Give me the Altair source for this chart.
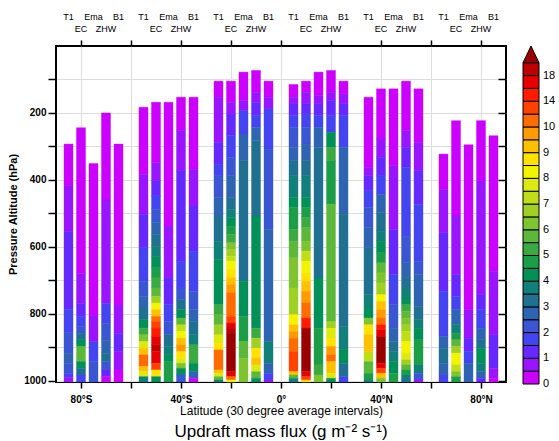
import altair as alt
import pandas as pd

# ---------------- data ----------------
MODELS = ["T1", "EC", "Ema", "ZHW", "B1"]
TOP_ROW = ["T1", "Ema", "B1"]
BOTTOM_ROW = ["EC", "ZHW"]
BAND_CENTERS = [-75, -45, -15, 15, 45, 75]      # 30-degree latitude bands
MODEL_OFFSETS = [-10, -5, 0, 5, 10]             # bar position of each model inside a band
P_SURFACE = 1004

# profiles: (top pressure of layer [hPa], updraft mass flux [g m-2 s-1]) from top to surface
# band 90S-60S
B1_T1 = [(293, 0.3), (418, 0.8), (555, 1.3), (787, 1.8), (857, 2.3), (918, 2.8), (948, 2.3), (978, 1.8), (990, 0.8)]
B1_EC = [(244, 0.3), (680, 0.8), (769, 1.3), (809, 1.8), (839, 2.3), (859, 3.3), (878, 4.3), (898, 5.8), (943, 4.3), (963, 3.3), (983, 1.8)]
B1_EMA = [(351, 0.3), (804, 0.8), (884, 1.8), (943, 2.3)]
B1_ZHW = [(200, 0.3), (460, 0.8), (769, 1.8), (829, 2.3), (879, 2.8), (918, 3.3), (943, 2.3), (968, 1.3), (988, 0.3)]
B1_B1 = [(293, 0.3), (774, 0.8), (859, 1.3), (913, 0.8), (968, 0.3)]
# band 60S-30S
B2_T1 = [(183, 0.3), (383, 0.8), (503, 1.3), (603, 1.8), (703, 2.3), (748, 2.8), (783, 3.3), (818, 4.3), (843, 5.3), (863, 6.3), (883, 7.8), (903, 9.3), (923, 11), (958, 9.3), (973, 7.8), (988, 3.8)]
B2_EC = [(168, 0.3), (348, 0.8), (403, 1.3), (448, 1.8), (488, 2.3), (528, 2.8), (563, 3.3), (598, 3.8), (628, 4.3), (663, 4.8), (693, 5.3), (723, 5.8), (748, 6.8), (768, 8.3), (788, 9.3), (808, 11), (823, 13), (843, 15), (868, 17), (893, 19), (913, 17), (948, 13), (968, 8.8), (988, 4.3)]
B2_EMA = [(168, 0.3), (538, 0.8), (693, 1.3), (773, 1.8), (823, 2.3), (863, 3.3), (898, 3.8), (923, 4.3), (943, 4.8)]
B2_ZHW = [(153, 0.3), (253, 0.8), (373, 1.3), (643, 1.8), (723, 2.3), (758, 3.3), (788, 4.3), (813, 5.8), (833, 7.3), (853, 8.3), (873, 9.3), (893, 9.8), (913, 8.8), (933, 7.8), (948, 6.3), (963, 4.3), (983, 2.3)]
B2_B1 = [(153, 0.3), (368, 0.8), (478, 1.3), (613, 1.8), (733, 2.3), (788, 2.8), (823, 3.3), (863, 3.8), (893, 5.3), (948, 4.3), (973, 2.8), (993, 0.3)]
# band 30S-0
B3_T1 = [(105, 0.3), (153, 0.8), (288, 1.3), (353, 1.8), (388, 2.3), (453, 2.8), (508, 3.3), (583, 3.8), (638, 4.3), (773, 5.3), (803, 5.8), (833, 6.8), (863, 7.8), (888, 8.8), (908, 11), (968, 9.3), (978, 7.8), (988, 5.8), (998, 3.8)]
B3_EC = [(105, 0.3), (168, 0.8), (203, 1.3), (268, 1.8), (333, 2.3), (388, 2.8), (453, 3.3), (488, 3.8), (513, 4.3), (538, 4.8), (563, 5.3), (588, 6.3), (608, 6.8), (628, 7.3), (643, 8.3), (668, 8.8), (693, 9.3), (713, 9.8), (738, 11), (808, 13), (828, 17), (843, 19), (858, 21), (973, 17), (988, 11), (998, 8.3)]
B3_EMA = [(78, 0.3), (163, 0.8), (193, 1.8), (263, 2.8), (343, 3.3), (703, 4.3), (808, 4.8), (883, 5.8), (933, 6.3)]
B3_ZHW = [(73, 0.3), (138, 0.8), (168, 1.3), (208, 1.8), (243, 2.8), (283, 3.3), (508, 4.3), (843, 5.3), (873, 6.8), (903, 8.8), (933, 9.3), (953, 7.8), (973, 5.8), (993, 4.3)]
B3_B1 = [(105, 0.3), (153, 0.8), (188, 1.8), (308, 2.3), (548, 2.8), (883, 3.8), (948, 2.8), (978, 1.8), (998, 0.8)]
# band 0-30N
B4_T1 = [(115, 0.3), (153, 0.8), (173, 1.3), (208, 1.8), (243, 2.3), (303, 2.8), (343, 3.3), (388, 3.8), (453, 4.3), (483, 4.8), (548, 5.3), (583, 5.8), (633, 6.3), (723, 6.8), (803, 8.3), (833, 9.3), (853, 9.8), (873, 11), (913, 13), (973, 9.3), (983, 5.8), (993, 3.8)]
B4_EC = [(105, 0.3), (138, 0.8), (173, 1.3), (203, 1.8), (243, 2.3), (293, 2.8), (343, 3.3), (388, 3.8), (453, 4.3), (483, 4.8), (513, 5.3), (543, 5.8), (583, 6.3), (613, 7.3), (643, 8.3), (678, 8.8), (703, 9.3), (733, 9.8), (768, 11), (813, 15), (843, 21), (973, 17), (988, 13), (998, 8.8)]
B4_EMA = [(78, 0.3), (148, 0.8), (173, 1.3), (208, 1.8), (243, 2.8), (303, 3.3), (693, 4.3), (843, 4.8), (953, 5.3), (983, 6.3)]
B4_ZHW = [(73, 0.3), (138, 0.8), (163, 1.3), (208, 1.8), (258, 4.3), (303, 5.3), (343, 4.8), (473, 5.8), (823, 6.8), (843, 7.8), (873, 8.8), (898, 9.8), (923, 11), (943, 9.3), (978, 7.8), (993, 4.3)]
B4_B1 = [(105, 0.3), (143, 0.8), (173, 1.3), (208, 1.8), (303, 2.8), (503, 3.3), (838, 3.8), (908, 4.3), (948, 3.3), (988, 1.8)]
# band 30N-60N
B5_T1 = [(153, 0.3), (363, 0.8), (388, 1.3), (433, 1.8), (483, 2.3), (543, 2.8), (603, 3.3), (743, 3.8), (783, 4.3), (813, 6.3), (833, 8.8), (863, 9.3), (913, 7.3), (943, 5.8), (978, 4.8), (998, 3.8)]
B5_EC = [(128, 0.3), (278, 0.8), (333, 1.3), (388, 1.8), (443, 2.8), (498, 3.3), (553, 3.8), (583, 4.3), (618, 4.8), (648, 5.8), (678, 6.3), (708, 6.8), (743, 8.3), (763, 9.3), (788, 9.8), (813, 11), (833, 15), (848, 17), (868, 21), (948, 17), (963, 13), (978, 9.3), (993, 6.3)]
B5_EMA = [(128, 0.3), (358, 0.8), (548, 1.3), (683, 1.8), (773, 2.3), (843, 2.8), (883, 3.3), (913, 3.8), (943, 4.3), (978, 4.8)]
B5_ZHW = [(105, 0.3), (253, 0.8), (303, 1.3), (363, 1.8), (568, 2.3), (648, 2.8), (693, 3.3), (723, 3.8), (753, 4.3), (773, 5.3), (793, 5.8), (813, 6.3), (833, 6.8), (853, 7.3), (883, 8.3), (918, 7.8), (938, 6.8), (953, 5.8), (968, 4.8), (983, 3.8), (998, 3.3)]
B5_B1 = [(128, 0.3), (288, 0.8), (373, 1.3), (473, 1.8), (643, 2.3), (683, 2.8), (778, 3.3), (818, 3.8), (843, 4.3), (878, 4.8), (953, 3.8), (978, 2.3), (998, 0.8)]
# band 60N-90N
B6_T1 = [(323, 0.3), (428, 0.8), (558, 1.3), (733, 1.8), (868, 2.8), (903, 3.3), (948, 2.8), (983, 1.8)]
B6_EC = [(223, 0.3), (508, 0.8), (683, 1.3), (748, 1.8), (788, 2.8), (833, 3.8), (858, 4.8), (878, 5.8), (898, 6.8), (918, 8.3), (953, 7.3), (973, 6.3), (988, 4.8)]
B6_EMA = [(295, 0.3), (788, 0.8), (873, 1.3), (913, 1.8), (948, 2.8)]
B6_ZHW = [(223, 0.3), (403, 0.8), (743, 1.3), (788, 1.8), (843, 2.8), (878, 3.3), (903, 4.3), (948, 3.8), (973, 2.8), (993, 1.3)]
B6_B1 = [(268, 0.3), (673, 0.8), (863, 1.3), (963, 0.8), (993, 0.3)]

PROFILES = [
    [B1_T1, B1_EC, B1_EMA, B1_ZHW, B1_B1],
    [B2_T1, B2_EC, B2_EMA, B2_ZHW, B2_B1],
    [B3_T1, B3_EC, B3_EMA, B3_ZHW, B3_B1],
    [B4_T1, B4_EC, B4_EMA, B4_ZHW, B4_B1],
    [B5_T1, B5_EC, B5_EMA, B5_ZHW, B5_B1],
    [B6_T1, B6_EC, B6_EMA, B6_ZHW, B6_B1],
]

# colour levels
LEVELS = [0.5, 1, 1.5, 2, 2.5, 3, 3.5, 4, 4.5, 5, 5.5, 6, 6.5, 7, 7.5, 8, 8.5, 9, 9.5, 10,
          12, 14, 16, 18, 20]
COLORS = ["#CC00FF", "#9A14FF", "#6628FF", "#4444F0", "#3A56D2", "#2E64B2", "#207092",
          "#12807A", "#009058", "#1C9E48", "#3CAA42", "#5CB83A", "#7EC430", "#A0D024",
          "#C0DE18", "#DCEA10", "#F2F400", "#FFE200", "#FFC000", "#FF9A00", "#FF6C00",
          "#FF4200", "#FF1A00", "#E60000", "#BE0000", "#990000"]
CB_LABELS = ["0", "1", "2", "3", "4", "5", "6", "7", "8", "9", "10", "14", "18"]
LAT_TICKS = [-80, -60, -40, -20, 0, 20, 40, 60, 80]
P_TICKS = [100, 200, 300, 400, 500, 600, 700, 800, 900, 1000]

BAR_HALF = 1.8  # half width of a bar, degrees (style)
FONT = "Liberation Sans"

# ---------------- tables ----------------
rows = []
labels = []
for gi, center in enumerate(BAND_CENTERS):
    for mi, model in enumerate(MODELS):
        lat = center + MODEL_OFFSETS[mi]
        labels.append({"model": model, "lat": lat})
        prof = PROFILES[gi][mi]
        for k, (ptop, flux) in enumerate(prof):
            pbot = prof[k + 1][0] if k + 1 < len(prof) else P_SURFACE
            rows.append({"model": model, "lat0": lat - BAR_HALF, "lat1": lat + BAR_HALF,
                         "ptop": ptop, "pbot": pbot, "flux": flux})
df = pd.DataFrame(rows)
lab = pd.DataFrame(labels)

xscale = alt.Scale(domain=[-90, 90], nice=False, zero=False)
yscale = alt.Scale(domain=[0, P_SURFACE], reverse=True, nice=False, zero=False)
cscale = alt.Scale(type="threshold", domain=LEVELS, range=COLORS)

lat_expr = ("datum.value % 40 != 0 ? '' : datum.value < 0 ? (-datum.value) + '°S' : "
            "datum.value > 0 ? datum.value + '°N' : '0°'")

bars = alt.Chart(df).mark_rect(strokeWidth=0.4).encode(
    x=alt.X("lat0:Q", scale=xscale,
            axis=alt.Axis(orient="bottom", values=LAT_TICKS, labelExpr=lat_expr,
                          title="Latitude (30 degree average intervals)", tickSize=6,
                          labelPadding=6, titlePadding=1, labelFontWeight="bold",
                          labelFontSize=10, titleFontSize=12, titleFontWeight="normal")),
    x2="lat1:Q",
    y=alt.Y("ptop:Q", scale=yscale,
            axis=alt.Axis(orient="left", values=P_TICKS,
                          labelExpr="datum.value % 200 == 0 ? '' + datum.value : ''",
                          title="Pressure Altitude (hPa)", tickSize=8, labelPadding=2,
                          titlePadding=5, labelFontWeight="bold", labelFontSize=10,
                          titleFontSize=11, titleFontWeight="bold")),
    y2="pbot:Q",
    color=alt.Color("flux:Q", scale=cscale, legend=None),
    stroke=alt.Stroke("flux:Q", scale=cscale, legend=None),
)

right_axis = alt.Chart(df).mark_rect(opacity=0).encode(
    x=alt.X("lat0:Q", scale=xscale, axis=None),
    x2="lat1:Q",
    y=alt.Y("ptop:Q", scale=yscale,
            axis=alt.Axis(orient="right", values=P_TICKS, labels=False, tickSize=8,
                          offset=-8, domain=False, title=None)),
    y2="pbot:Q",
)

top_labels = alt.Chart(lab).transform_filter(
    alt.FieldOneOfPredicate(field="model", oneOf=TOP_ROW)
).mark_text(fontSize=9, baseline="middle", font=FONT).encode(
    x=alt.X("lat:Q", scale=xscale,
            axis=alt.Axis(orient="top", values=LAT_TICKS, labels=False, tickSize=6,
                          domain=False, title=None)),
    y=alt.value(-29),
    text="model:N",
)
bottom_labels = alt.Chart(lab).transform_filter(
    alt.FieldOneOfPredicate(field="model", oneOf=BOTTOM_ROW)
).mark_text(fontSize=9, baseline="middle", font=FONT).encode(
    x=alt.X("lat:Q", scale=xscale, axis=None),
    y=alt.value(-17),
    text="model:N",
)

main = alt.layer(bars, right_axis, top_labels, bottom_labels).resolve_axis(
    x="independent", y="independent"
).properties(
    width=450, height=336,
    view=alt.ViewBackground(stroke="black", strokeWidth=2),
    title=alt.Title("Updraft mass flux (g m⁻² s⁻¹)", orient="bottom", anchor="middle",
                    fontSize=17, fontWeight="normal", offset=8, font=FONT),
)

# ---------------- colour bar ----------------
cb_df = pd.DataFrame({"lo": list(range(len(LEVELS))),
                      "hi": list(range(1, len(LEVELS) + 1)),
                      "color": COLORS[:len(LEVELS)]})
cb_lab = pd.DataFrame({"label": CB_LABELS, "pos": list(range(0, 2 * len(CB_LABELS), 2))})
cb_y = alt.Scale(domain=[0, len(LEVELS) + 1.3], nice=False, zero=False)
cb_x = alt.Scale(domain=[0, 1], nice=False)

cb_boxes = alt.Chart(cb_df).transform_calculate(x0="0", x1="1").mark_rect(
    stroke="black", strokeWidth=1
).encode(
    x=alt.X("x0:Q", scale=cb_x, axis=None),
    x2="x1:Q",
    y=alt.Y("lo:Q", scale=cb_y, axis=None),
    y2="hi:Q",
    color=alt.Color("color:N", scale=None),
)

cb_text = alt.Chart(cb_lab).mark_text(
    align="left", baseline="middle", dx=4, fontSize=11, font=FONT, color="black"
).encode(
    x=alt.datum(1, scale=cb_x),
    y=alt.Y("pos:Q", scale=cb_y, axis=None),
    text="label:N",
)

tri = pd.DataFrame({"tx": [0, 0.5, 1], "ty": [len(LEVELS), len(LEVELS) + 1.3, len(LEVELS)]})
cb_tri = alt.Chart(tri).mark_area(color=COLORS[-1], stroke="black", strokeWidth=1).encode(
    x=alt.X("tx:Q", scale=cb_x, axis=None),
    y=alt.Y("ty:Q", scale=cb_y, axis=None),
    y2=alt.datum(len(LEVELS)),
)

colorbar = alt.layer(cb_boxes, cb_tri, cb_text).properties(
    width=16, height=338, view=alt.ViewBackground(stroke=None)
)

chart = alt.hconcat(main, colorbar, spacing=13).properties(
    padding={"left": 6, "top": 12, "right": 2, "bottom": 2}
).configure(font=FONT).configure_axis(
    tickColor="black", tickWidth=1.5, labelColor="black", titleColor="black",
    domainColor="black", labelFont=FONT, titleFont=FONT
)

chart.save("out.html", embed_options={"renderer": "svg", "actions": False})
